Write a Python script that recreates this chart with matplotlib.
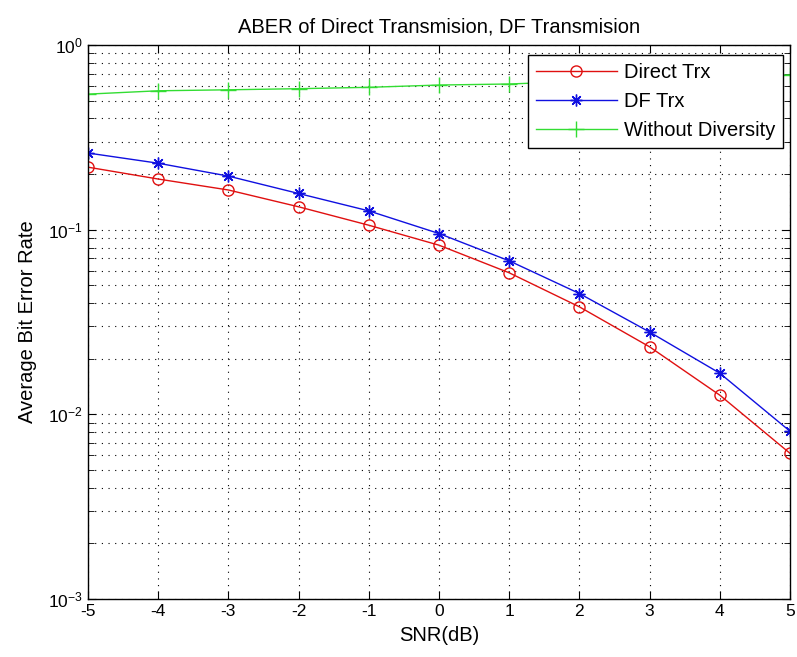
import numpy as np
import matplotlib
matplotlib.use('Agg')
import matplotlib.pyplot as plt
from matplotlib.ticker import LogLocator, NullFormatter

plt.rcParams['font.family'] = ['Liberation Sans', 'DejaVu Sans']

#%% Data
snr_db = [-5, -4, -3, -2, -1, 0, 1, 2, 3, 4, 5]
ber_direct = [0.218, 0.188, 0.164, 0.133, 0.1057, 0.0824, 0.0584, 0.0382, 0.0232, 0.0127, 0.00615]
ber_df = [0.260, 0.229, 0.195, 0.157, 0.1264, 0.0953, 0.0678, 0.0451, 0.0279, 0.0167, 0.0081]
ber_no_div = [0.542, 0.565, 0.572, 0.580, 0.590, 0.607, 0.615, 0.635, 0.651, 0.670, 0.688]

title_text = 'ABER of Direct Transmision, DF Transmision'
legend_labels = ['Direct Trx', 'DF Trx', 'Without Diversity']

#%% Figure
fig = plt.figure(figsize=(7.97, 6.57), dpi=100)
ax = fig.add_axes([88 / 797, 58 / 657, 702 / 797, 554 / 657])

ax.semilogy(snr_db, ber_direct, '-', color='#e01010', lw=1.0, marker='o',
            ms=8, mfc='none', mec='#e01010', mew=1.0, label=legend_labels[0])
ax.semilogy(snr_db, ber_df, '-', color='#1010e0', lw=1.0, marker=(8, 2, 0),
            ms=8.5, mec='#1010e0', mew=1.0, label=legend_labels[1])
ax.semilogy(snr_db, ber_no_div, '-', color='#33dd33', lw=1.0, marker='+',
            ms=12, mec='#33dd33', mew=1.0, label=legend_labels[2])

ax.set_xlim(-5, 5)
ax.set_ylim(1e-3, 1)
ax.set_xticks(snr_db)
ax.set_xticklabels([str(v) for v in snr_db])
ax.yaxis.set_major_locator(LogLocator(base=10, numticks=10))
ax.yaxis.set_minor_locator(LogLocator(base=10, subs=np.arange(2, 10), numticks=20))
ax.yaxis.set_minor_formatter(NullFormatter())

# MATLAB-like dotted grid
grid_style = dict(color='black', linestyle=(0, (1, 5)), linewidth=0.8)
ax.grid(True, which='major', axis='both', **grid_style)
ax.grid(True, which='minor', axis='y', **grid_style)

ax.tick_params(which='both', direction='in', top=True, right=True, labelsize=12.5)
ax.tick_params(which='major', length=6)
ax.tick_params(which='minor', length=4)
for sp in ax.spines.values():
    sp.set_linewidth(1.0)

ax.set_title(title_text, fontsize=14.5, pad=9)
ax.set_xlabel('SNR(dB)', fontsize=14.5, labelpad=5)
ax.set_ylabel('Average Bit Error Rate', fontsize=14.5, labelpad=8)

leg = ax.legend(loc='upper right', bbox_to_anchor=(1 - 7 / 702, 1 - 10 / 554),
                borderaxespad=0, fontsize=14.5, handlelength=4.0,
                handletextpad=0.35, fancybox=False, framealpha=1,
                edgecolor='black', labelspacing=0.5, borderpad=0.4)
leg.get_frame().set_linewidth(1.0)

plt.savefig('out.png', dpi=100)
